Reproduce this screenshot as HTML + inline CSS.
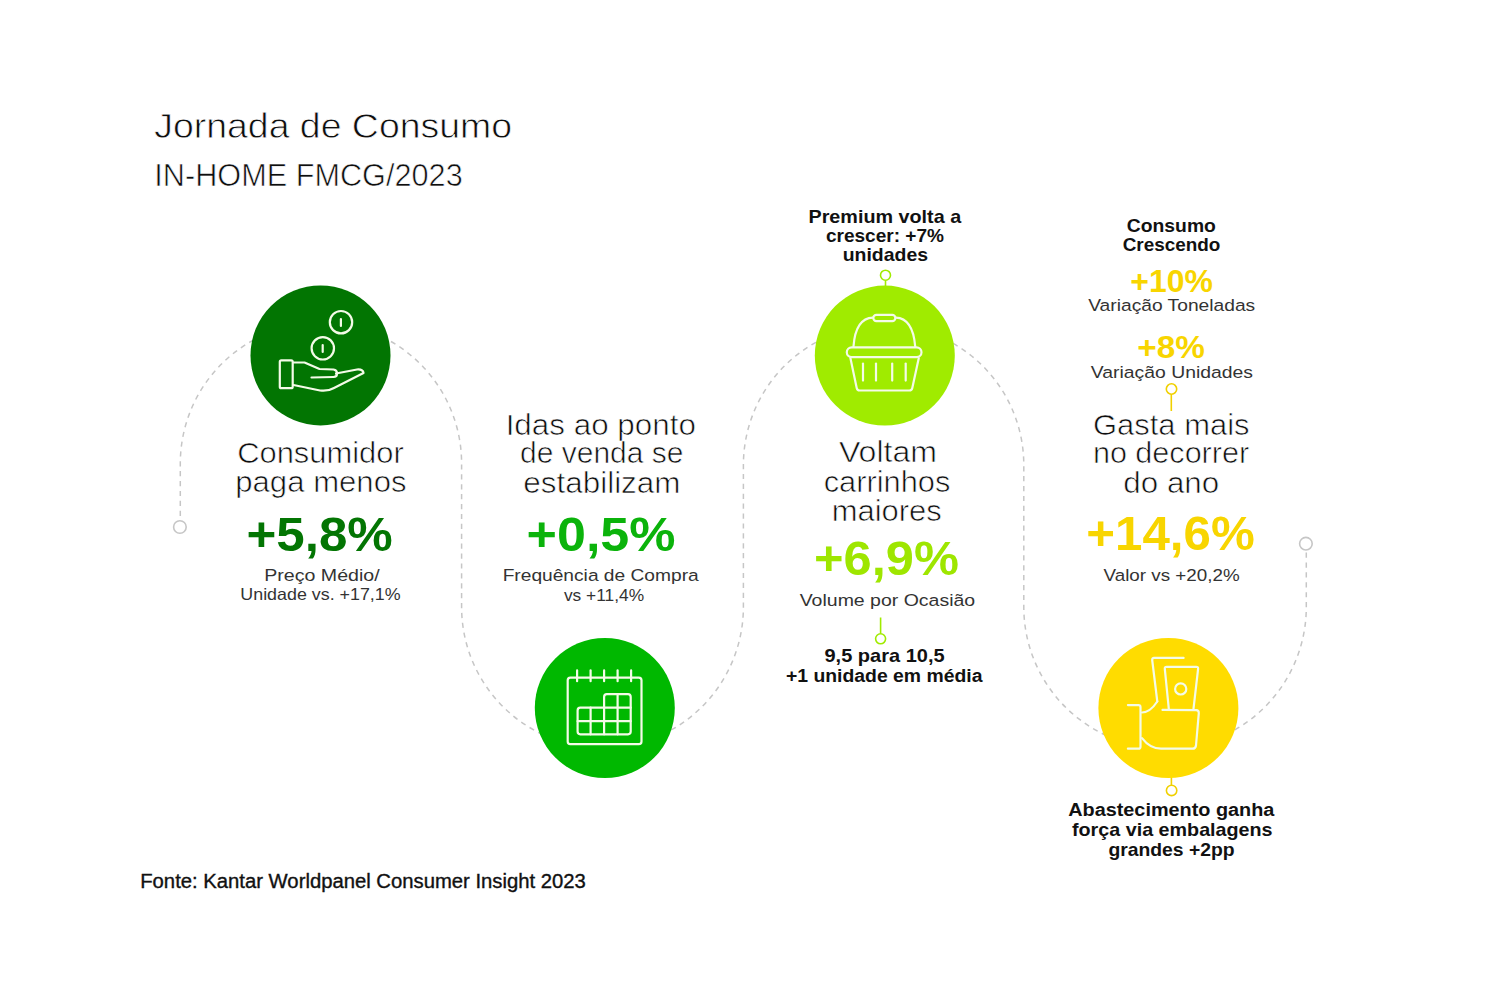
<!DOCTYPE html>
<html lang="pt-BR"><head><meta charset="utf-8"><title>Jornada de Consumo</title>
<style>html,body{margin:0;padding:0;background:#fff;}svg{display:block;}</style></head>
<body><svg width="1500" height="1000" viewBox="0 0 1500 1000">
<rect width="1500" height="1000" fill="#fff"/>
<path d="M180.3,520.4 V463.5 A140.65,140.65 0 0 1 461.6,463.5 V607 A140.9,140.9 0 0 0 743.4,607 V465 A140.2,140.2 0 0 1 1023.8,465 V607 A141.25,141.25 0 0 0 1306.3,607 V550.3" fill="none" stroke="#c6c6c6" stroke-width="1.5" stroke-dasharray="5.2 4.7" stroke-dashoffset="5.4"/>
<circle cx="179.9" cy="527" r="6.3" fill="#fff" stroke="#c6c6c6" stroke-width="1.6"/>
<circle cx="1305.9" cy="543.7" r="6.3" fill="#fff" stroke="#c6c6c6" stroke-width="1.6"/>
<g fill="#fff" stroke="#a0eb00" stroke-width="1.6"><line x1="885.5" y1="280" x2="885.5" y2="287"/><circle cx="885.5" cy="275.2" r="5"/><line x1="880.6" y1="617.5" x2="880.6" y2="633.8"/><circle cx="880.6" cy="638.8" r="5"/></g>
<g fill="#fff" stroke="#f0d000" stroke-width="1.6"><line x1="1171.3" y1="394" x2="1171.3" y2="411"/><circle cx="1171.5" cy="389" r="5.2"/><line x1="1171.4" y1="776" x2="1171.4" y2="785.2"/><circle cx="1171.6" cy="790.4" r="5.2"/></g>
<circle cx="320.5" cy="355.4" r="70" fill="#027502"/>
<circle cx="604.8" cy="708" r="70" fill="#00b800"/>
<circle cx="884.8" cy="355.6" r="70" fill="#a0eb00"/>
<circle cx="1168.4" cy="708" r="70" fill="#ffdc00"/>
<g fill="none" stroke="#f4fbe8" stroke-width="2.2" stroke-linecap="round" stroke-linejoin="round"><circle cx="341" cy="322.2" r="11.2"/><line x1="340.9" y1="319" x2="340.9" y2="326"/><circle cx="322.8" cy="348.3" r="11.2"/><line x1="322.7" y1="345" x2="322.7" y2="352"/><rect x="279.8" y="360.3" width="12.9" height="27.9" rx="1.5"/><path d="M293.5,362.5 L304.5,362.5 L319.5,369 L333.5,369.5 Q337,370 337,373.5 Q337,377 333.5,377 L311.5,377.5"/><path d="M336,373.5 L357,369.5 Q363,369 363.5,373 L334,388 Q328,391.5 320,390.5 L293.5,385"/></g>
<g fill="none" stroke="#f4fbe8" stroke-width="2.2" stroke-linecap="round" stroke-linejoin="round"><rect x="567.7" y="677.6" width="73.8" height="66.6" rx="2.7"/><line x1="577.1" y1="670.4" x2="577.1" y2="681.2"/><line x1="590.6" y1="670.4" x2="590.6" y2="681.2"/><line x1="604.1" y1="670.4" x2="604.1" y2="681.2"/><line x1="617.6" y1="670.4" x2="617.6" y2="681.2"/><line x1="631.1" y1="670.4" x2="631.1" y2="681.2"/><path d="M577.6,710.4 Q577.6,707.7 580.3,707.7 L604.1,707.7 L604.1,696.9 Q604.1,694.2 606.8,694.2 L628,694.2 Q630.7,694.2 630.7,696.9 L630.7,731.6 Q630.7,734.3 628,734.3 L580.3,734.3 Q577.6,734.3 577.6,731.6 Z"/><path d="M604.1,707.7 H630.7 M577.6,721.2 H630.7 M590.6,707.7 V734.3 M604.1,707.7 V734.3 M617.6,694.2 V734.3"/></g>
<g fill="none" stroke="#f4fbe8" stroke-width="2.2" stroke-linecap="round" stroke-linejoin="round"><rect x="873.3" y="314.9" width="22.1" height="6.3" rx="3.1"/><path d="M872.9,317.6 C862,318 855,326 853.5,346.4"/><path d="M895.8,317.6 C906.5,318 913.5,326 915.2,346.4"/><rect x="846.8" y="347.3" width="74.7" height="9.9" rx="4.9"/><path d="M850.4,358.1 L856.7,388 Q857.2,390.5 859.7,390.5 L909.3,390.5 Q911.8,390.5 912.3,388 L918.8,358.1"/><line x1="863" y1="363.5" x2="863" y2="380.6"/><line x1="876" y1="363.5" x2="876" y2="380.6"/><line x1="892.2" y1="363.5" x2="892.2" y2="380.6"/><line x1="905.7" y1="363.5" x2="905.7" y2="380.6"/></g>
<g fill="none" stroke="#f4fbe8" stroke-width="2.2" stroke-linecap="round" stroke-linejoin="round"><path d="M1183.6,657.9 L1154,657.9 Q1152,657.9 1152.2,660 L1157.3,701.5"/><path d="M1168.8,708.8 L1164.8,668.8 Q1164.6,666.8 1166.6,666.8 L1196.3,666.8 Q1198.3,666.8 1198.1,668.8 L1193.5,708.8"/><circle cx="1180.7" cy="688.9" r="5.6"/><path d="M1127.9,705.1 L1138.5,705.1 Q1140.5,705.1 1140.5,707.1 L1140.5,746.7 Q1140.5,748.7 1138.5,748.7 L1127.9,748.7"/><path d="M1142,712.5 Q1150,712.5 1157.3,701.5"/><path d="M1162.5,709.9 L1196.2,710.2 Q1199,710.4 1198.8,713.2 L1196,745.5 Q1195.6,748.7 1192.5,748.7 L1161,748.7 Q1150,748.7 1142,738.2"/></g>
<g font-family="'Liberation Sans', Arial, sans-serif">
<text transform="translate(154.25,137.80) scale(1.0540,1)" font-size="35.5" font-weight="400" fill="#0e0e0e" stroke="#fff" stroke-width="0.75">Jornada de Consumo</text>
<text transform="translate(154.33,186.20) scale(0.9893,1)" font-size="31.0" font-weight="400" fill="#0e0e0e" stroke="#fff" stroke-width="0.65">IN-HOME FMCG/2023</text>
<text transform="translate(237.13,462.70) scale(1.0665,1)" font-size="29" font-weight="400" fill="#0e0e0e" stroke="#fff" stroke-width="0.65">Consumidor</text>
<text transform="translate(235.25,492.40) scale(1.0732,1)" font-size="29" font-weight="400" fill="#0e0e0e" stroke="#fff" stroke-width="0.65">paga menos</text>
<text transform="translate(246.51,550.60) scale(1.0431,1)" font-size="49" font-weight="700" fill="#037503">+5,8%</text>
<text transform="translate(264.21,580.90) scale(1.1885,1)" font-size="16.5" font-weight="400" fill="#333333">Preço Médio/</text>
<text transform="translate(240.32,600.40) scale(1.0823,1)" font-size="16.5" font-weight="400" fill="#333333">Unidade vs. +17,1%</text>
<text transform="translate(505.65,434.50) scale(1.0831,1)" font-size="29" font-weight="400" fill="#0e0e0e" stroke="#fff" stroke-width="0.65">Idas ao ponto</text>
<text transform="translate(520.07,463.40) scale(1.0340,1)" font-size="29" font-weight="400" fill="#0e0e0e" stroke="#fff" stroke-width="0.65">de venda se</text>
<text transform="translate(523.22,492.70) scale(1.0845,1)" font-size="29" font-weight="400" fill="#0e0e0e" stroke="#fff" stroke-width="0.65">estabilizam</text>
<text transform="translate(526.58,550.50) scale(1.0620,1)" font-size="49" font-weight="700" fill="#0bb30b">+0,5%</text>
<text transform="translate(502.64,581.30) scale(1.1631,1)" font-size="16.5" font-weight="400" fill="#333333">Frequência de Compra</text>
<text transform="translate(563.90,601.00) scale(1.0526,1)" font-size="16.5" font-weight="400" fill="#333333">vs +11,4%</text>
<text transform="translate(808.50,223.10) scale(1.0986,1)" font-size="18" font-weight="700" fill="#111111">Premium volta a</text>
<text transform="translate(825.94,241.80) scale(1.0591,1)" font-size="18" font-weight="700" fill="#111111">crescer: +7%</text>
<text transform="translate(842.72,261.40) scale(1.0805,1)" font-size="18" font-weight="700" fill="#111111">unidades</text>
<text transform="translate(838.90,462.30) scale(1.1069,1)" font-size="29" font-weight="400" fill="#0e0e0e" stroke="#fff" stroke-width="0.65">Voltam</text>
<text transform="translate(823.64,491.70) scale(1.0632,1)" font-size="29" font-weight="400" fill="#0e0e0e" stroke="#fff" stroke-width="0.65">carrinhos</text>
<text transform="translate(831.66,520.80) scale(1.0680,1)" font-size="29" font-weight="400" fill="#0e0e0e" stroke="#fff" stroke-width="0.65">maiores</text>
<text transform="translate(814.03,575.30) scale(1.0328,1)" font-size="49" font-weight="700" fill="#9ee600">+6,9%</text>
<text transform="translate(799.70,605.50) scale(1.1824,1)" font-size="16.5" font-weight="400" fill="#333333">Volume por Ocasião</text>
<text transform="translate(824.46,661.90) scale(1.1442,1)" font-size="17.5" font-weight="700" fill="#111111">9,5 para 10,5</text>
<text transform="translate(785.99,681.50) scale(1.1073,1)" font-size="17.5" font-weight="700" fill="#111111">+1 unidade em média</text>
<text transform="translate(1126.83,231.80) scale(1.0741,1)" font-size="18" font-weight="700" fill="#111111">Consumo</text>
<text transform="translate(1122.65,251.20) scale(1.0505,1)" font-size="18" font-weight="700" fill="#111111">Crescendo</text>
<text transform="translate(1130.28,292.10) scale(1.0177,1)" font-size="31.4" font-weight="700" fill="#f8d500">+10%</text>
<text transform="translate(1088.20,311.30) scale(1.1650,1)" font-size="16.5" font-weight="400" fill="#333333">Variação Toneladas</text>
<text transform="translate(1137.24,358.20) scale(1.0613,1)" font-size="31.4" font-weight="700" fill="#f8d500">+8%</text>
<text transform="translate(1090.80,377.90) scale(1.1746,1)" font-size="16.5" font-weight="400" fill="#333333">Variação Unidades</text>
<text transform="translate(1092.93,435.40) scale(1.0683,1)" font-size="29" font-weight="400" fill="#0e0e0e" stroke="#fff" stroke-width="0.65">Gasta mais</text>
<text transform="translate(1092.89,463.00) scale(1.0541,1)" font-size="29" font-weight="400" fill="#0e0e0e" stroke="#fff" stroke-width="0.65">no decorrer</text>
<text transform="translate(1123.32,492.80) scale(1.0816,1)" font-size="29" font-weight="400" fill="#0e0e0e" stroke="#fff" stroke-width="0.65">do ano</text>
<text transform="translate(1086.25,550.40) scale(1.0267,1)" font-size="48" font-weight="700" fill="#f8d500">+14,6%</text>
<text transform="translate(1103.50,580.80) scale(1.1420,1)" font-size="16.5" font-weight="400" fill="#333333">Valor vs +20,2%</text>
<text transform="translate(1068.20,816.00) scale(1.1032,1)" font-size="18" font-weight="700" fill="#111111">Abastecimento ganha</text>
<text transform="translate(1072.00,835.80) scale(1.0962,1)" font-size="18" font-weight="700" fill="#111111">força via embalagens</text>
<text transform="translate(1108.43,855.70) scale(1.0733,1)" font-size="18" font-weight="700" fill="#111111">grandes +2pp</text>
<text transform="translate(140.22,888.30) scale(1.0399,1)" font-size="19.5" font-weight="400" fill="#111111" stroke="#111111" stroke-width="0.35">Fonte: Kantar Worldpanel Consumer Insight 2023</text>
</g>
</svg></body></html>
